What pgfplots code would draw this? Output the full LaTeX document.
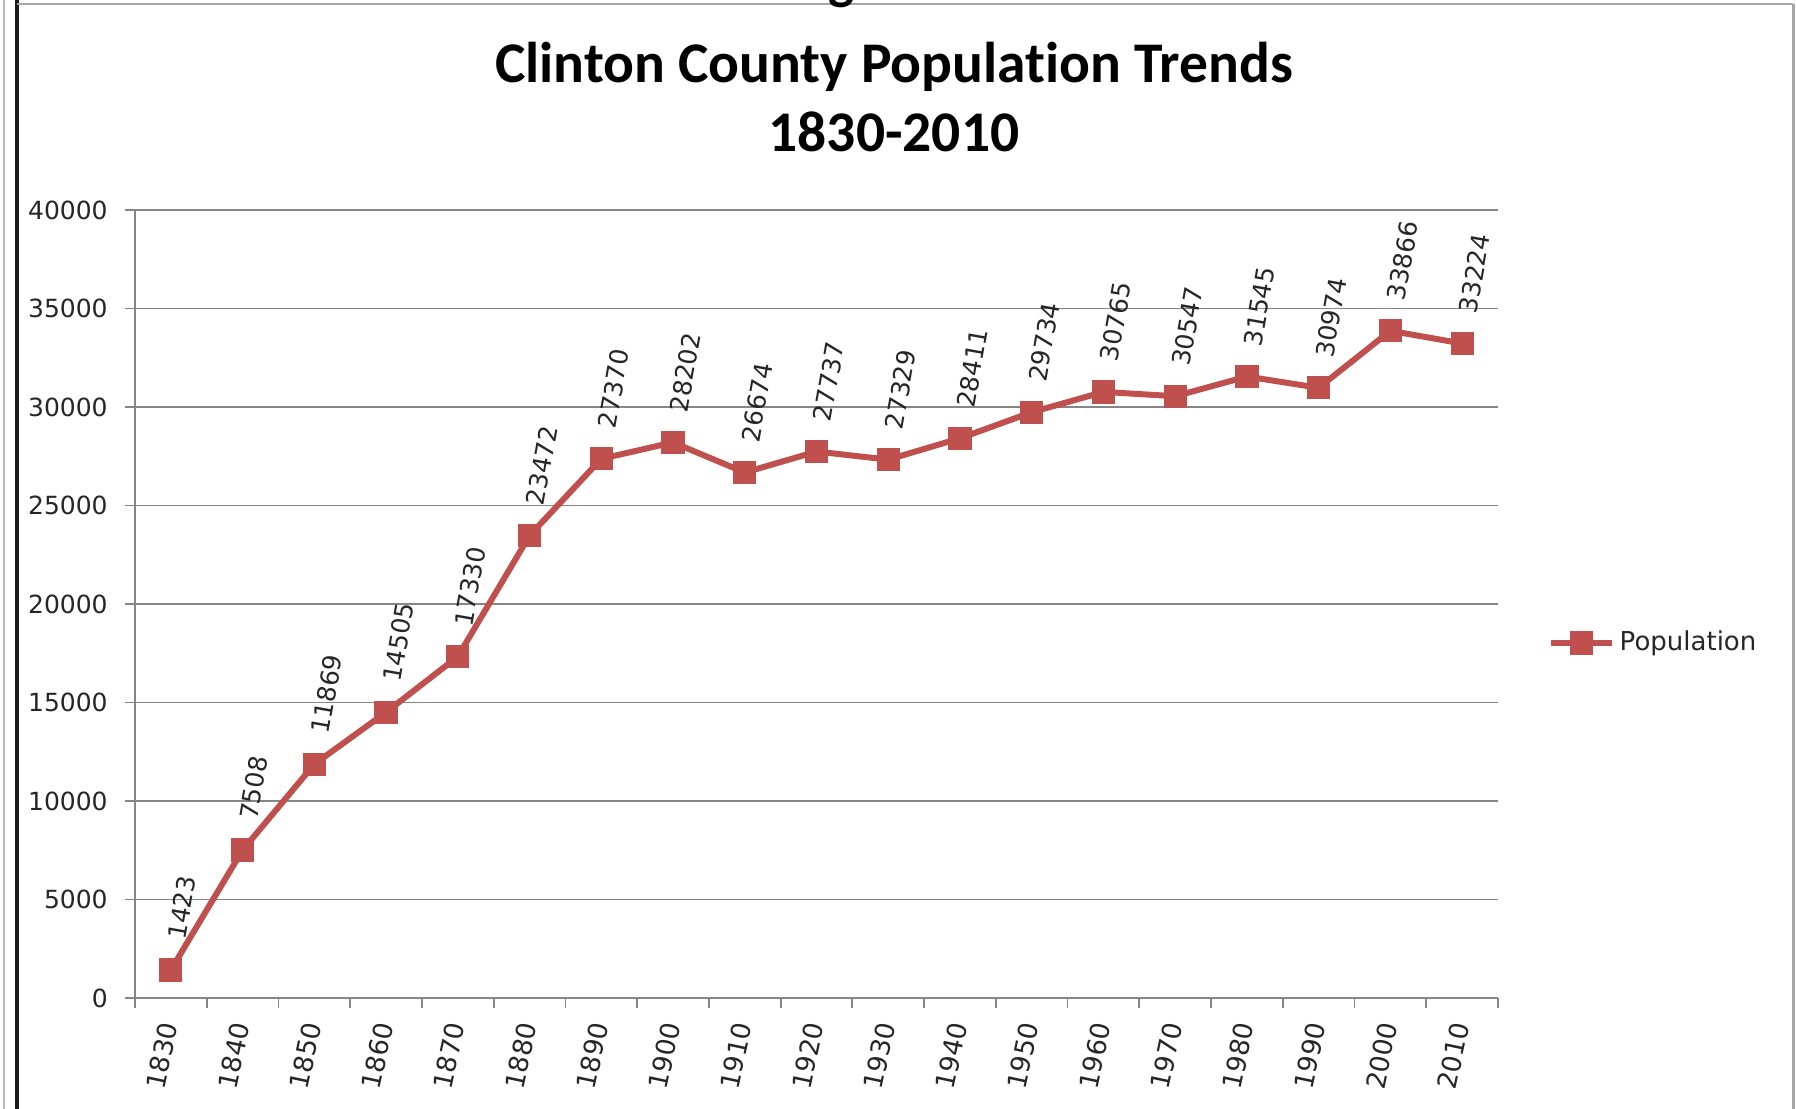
\documentclass[border=0pt]{standalone}
\usepackage{pgfplots}
\pgfplotsset{compat=1.18}
\usepackage{pgfplotstable}
\usepackage{fontspec}
\setmainfont{DejaVu Sans}
\newfontfamily\titlefont[Ligatures={NoCommon}]{Carlito}
\definecolor{serie}{RGB}{192,80,77}
\definecolor{gridc}{RGB}{134,134,134}

\pgfplotstableread{
x y
0 1423
1 7508
2 11869
3 14505
4 17330
5 23472
6 27370
7 28202
8 26674
9 27737
10 27329
11 28411
12 29734
13 30765
14 30547
15 31545
16 30974
17 33866
18 33224
}\popdata

\begin{document}
\begin{tikzpicture}
\useasboundingbox (-54pt,-44.4pt) rectangle (664.4pt,399.2pt);
% frame pieces
\draw[gray!55, line width=0.7pt] (-52.4pt,-44.4pt) -- (-52.4pt,399.2pt);
\draw[black!90, line width=1.6pt] (-47.2pt,-44.4pt) -- (-47.2pt,399.2pt);
\draw[gray!70, line width=0.8pt] (-47.2pt,397.6pt) -- (663.2pt,397.6pt);
\draw[gray!70, line width=1.2pt] (663.2pt,397.6pt) -- (663.2pt,-44.4pt);
% cut-off letter at top
\node[font=\titlefont\bfseries\fontsize{22}{26}\selectfont, anchor=base, inner sep=0pt] at (282.8pt,399.6pt) {g};
% title
\node[font=\titlefont\bfseries\fontsize{23}{28}\selectfont, anchor=base, inner sep=0pt] at (303.6pt,366pt) {Clinton County Population Trends};
\node[font=\titlefont\bfseries\fontsize{23}{28}\selectfont, anchor=base, inner sep=0pt] at (303.6pt,338.4pt) {1830-2010};
\begin{axis}[
  at={(0pt,0pt)}, anchor=south west,
  scale only axis, width=545.2pt, height=315.2pt,
  xmin=-0.5, xmax=18.5, ymin=0, ymax=40000,
  clip=false,
  axis x line*=bottom, axis y line*=left,
  axis line style={-, gridc, line width=0.7pt},
  xtick={0,...,18},
  xticklabels={1830,1840,1850,1860,1870,1880,1890,1900,1910,1920,1930,1940,1950,1960,1970,1980,1990,2000,2010},
  major x tick style={draw=none},
  minor xtick={-0.5,0.5,...,18.5},
  minor x tick style={gridc, line width=0.7pt},
  minor tick length=4pt,
  ytick={0,5000,...,40000},
  yticklabels={0,5000,10000,15000,20000,25000,30000,35000,40000},
  major y tick style={gridc, line width=0.7pt},
  major tick length=4pt,
  tick align=outside,
  scaled y ticks=false,
  ymajorgrids,
  grid style={gridc, line width=0.7pt},
  yticklabel style={font=\fontsize{10}{12}\selectfont, text=black!85},
  yticklabel shift=3.4pt,
  xticklabel style={font=\fontsize{10.5}{12}\selectfont, rotate=78, anchor=east, text=black!85},
  xticklabel shift=2.6pt,
  legend style={draw=none, fill=none, at={(1.036,0.4505)}, anchor=west, inner sep=0pt,
    font=\fontsize{10.4}{12}\selectfont, text=black!85},
  legend image code/.code={\draw[mark repeat=2,mark phase=2] plot coordinates {(0cm,0cm) (0.43cm,0cm) (0.86cm,0cm)};},
]
\addplot[serie, line width=2.4pt, mark=square*, mark size=4.4pt,
  mark options={solid, fill=serie, draw=serie, line width=0.5pt},
  point meta=explicit symbolic,
  nodes near coords,
  every node near coord/.style={font=\fontsize{10}{12}\selectfont, text=black!85, anchor=west, rotate=80, xshift=9pt}
] table[x=x, y=y, meta=y] {\popdata};
\addlegendentry{Population}
\end{axis}
\end{tikzpicture}
\end{document}
